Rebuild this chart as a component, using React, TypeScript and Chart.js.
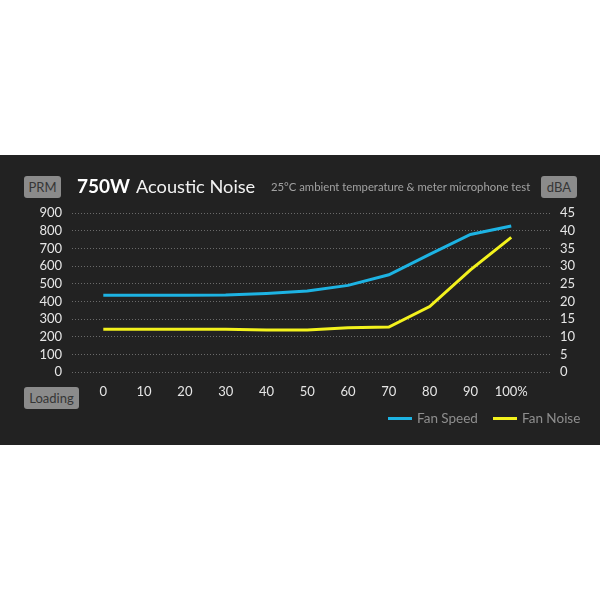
import React, { useEffect, useRef } from "react";
import { Chart, registerables } from "chart.js";

Chart.register(...registerables);

// ---- data ----
const loadLevels = [0, 10, 20, 30, 40, 50, 60, 70, 80, 90, 100];
const fanSpeedRpm = [436, 436, 436, 437, 446, 460, 492, 552, 668, 780, 828];
const fanNoiseDba = [12.2, 12.2, 12.2, 12.2, 12.0, 12.0, 12.6, 12.8, 18.6, 29.0, 38.2];
const seriesNames = ["Fan Speed", "Fan Noise"];
const seriesColors = ["#1db3e3", "#f3f21d"];
const rpmTicks = [0, 100, 200, 300, 400, 500, 600, 700, 800, 900];
const dbaTicks = [0, 5, 10, 15, 20, 25, 30, 35, 40, 45];
const titleBold = "750W";
const titleRest = "Acoustic Noise";
const subtitle = "25°C ambient temperature & meter microphone test";
const leftBadge = "PRM";
const rightBadge = "dBA";
const xBadge = "Loading";

const FONT = "Lato, 'Open Sans', sans-serif";

const badgeStyle: React.CSSProperties = {
  position: "absolute",
  background: "#8b8b8b",
  color: "#363636",
  borderRadius: 3,
  fontFamily: FONT,
  fontSize: 13,
  display: "flex",
  alignItems: "center",
  justifyContent: "center",
};

export default function App() {
  const canvasRef = useRef<HTMLCanvasElement | null>(null);

  useEffect(() => {
    if (!canvasRef.current) return;
    const chart = new Chart(canvasRef.current, {
      type: "line",
      data: {
        datasets: [
          {
            label: seriesNames[0],
            data: loadLevels.map((x, i) => ({ x, y: fanSpeedRpm[i] })),
            borderColor: seriesColors[0],
            backgroundColor: seriesColors[0],
            borderWidth: 3,
            pointRadius: 0,
            tension: 0,
            yAxisID: "y",
          },
          {
            label: seriesNames[1],
            data: loadLevels.map((x, i) => ({ x, y: fanNoiseDba[i] })),
            borderColor: seriesColors[1],
            backgroundColor: seriesColors[1],
            borderWidth: 3,
            pointRadius: 0,
            tension: 0,
            yAxisID: "y1",
          },
        ],
      },
      options: {
        animation: false,
        responsive: true,
        maintainAspectRatio: false,
        layout: { padding: { top: 58.3, left: 0, right: 0, bottom: 0 } },
        plugins: { legend: { display: false }, tooltip: { enabled: false } },
        scales: {
          x: {
            type: "linear",
            min: -7.67,
            max: 109.5,
            grid: { display: false, drawTicks: false },
            border: { display: false },
            afterBuildTicks: (scale: any) => {
              scale.ticks = loadLevels.map((v) => ({ value: v }));
            },
            afterFit: (scale: any) => {
              scale.height = 72.7;
            },
            ticks: {
              autoSkip: false,
              maxRotation: 0,
              color: "#e6e6e6",
              padding: 12,
              font: { family: FONT, size: 13 },
              callback: (v: any) => (v === 100 ? "100%" : String(v)),
            },
          },
          y: {
            position: "left",
            min: 0,
            max: 900,
            grid: { color: "#6a6a6a", lineWidth: 1, drawTicks: false },
            border: { display: false, dash: [1, 2] },
            afterBuildTicks: (scale: any) => {
              scale.ticks = rpmTicks.map((v) => ({ value: v }));
            },
            afterFit: (scale: any) => {
              scale.width = 72;
            },
            ticks: {
              autoSkip: false,
              color: "#e6e6e6",
              padding: 10,
              font: { family: FONT, size: 13 },
            },
          },
          y1: {
            position: "right",
            min: 0,
            max: 45,
            grid: { drawOnChartArea: false, drawTicks: false },
            border: { display: false },
            afterBuildTicks: (scale: any) => {
              scale.ticks = dbaTicks.map((v) => ({ value: v }));
            },
            afterFit: (scale: any) => {
              scale.width = 50;
            },
            ticks: {
              autoSkip: false,
              color: "#e6e6e6",
              padding: 10,
              font: { family: FONT, size: 13 },
            },
          },
        },
      } as any,
    });
    return () => chart.destroy();
  }, []);

  return (
    <div
      style={{
        position: "absolute",
        left: 0,
        top: 0,
        width: 600,
        height: 600,
        background: "#ffffff",
        overflow: "hidden",
      }}
    >
      <div
        style={{
          position: "absolute",
          left: 0,
          top: 155,
          width: 600,
          height: 290,
          background: "#222222",
        }}
      >
        <div style={{ position: "absolute", left: 0, top: 0, width: 600, height: 290 }}>
          <canvas ref={canvasRef} />
        </div>

        <div style={{ ...badgeStyle, left: 24, top: 21, width: 37, height: 22 }}>{leftBadge}</div>
        <div style={{ ...badgeStyle, left: 541, top: 21, width: 36, height: 22 }}>{rightBadge}</div>
        <div style={{ ...badgeStyle, left: 24, top: 232, width: 55, height: 22 }}>{xBadge}</div>

        <div
          style={{
            position: "absolute",
            left: 77,
            top: 17,
            fontFamily: FONT,
            fontSize: 19,
            lineHeight: "28px",
            fontWeight: 700,
            color: "#ffffff",
            whiteSpace: "nowrap",
          }}
        >
          {titleBold}
        </div>
        <div
          style={{
            position: "absolute",
            left: 136,
            top: 17,
            fontFamily: FONT,
            fontSize: 18.2,
            lineHeight: "28px",
            color: "#f2f2f2",
            whiteSpace: "nowrap",
          }}
        >
          {titleRest}
        </div>
        <div
          style={{
            position: "absolute",
            left: 271,
            top: 24,
            fontFamily: FONT,
            fontSize: 11.3,
            lineHeight: "16px",
            color: "#a2a2a2",
            whiteSpace: "nowrap",
          }}
        >
          {subtitle}
        </div>

        {seriesNames.map((name, i) => (
          <div
            key={name}
            style={{
              position: "absolute",
              left: i === 0 ? 388 : 493,
              top: 253,
              height: 20,
              display: "flex",
              alignItems: "center",
              fontFamily: FONT,
              fontSize: 13.5,
              color: "#8e8e8e",
              whiteSpace: "nowrap",
            }}
          >
            <span
              style={{
                display: "inline-block",
                width: 24,
                height: 3,
                background: seriesColors[i],
                marginRight: 5,
              }}
            />
            {name}
          </div>
        ))}
      </div>
    </div>
  );
}
